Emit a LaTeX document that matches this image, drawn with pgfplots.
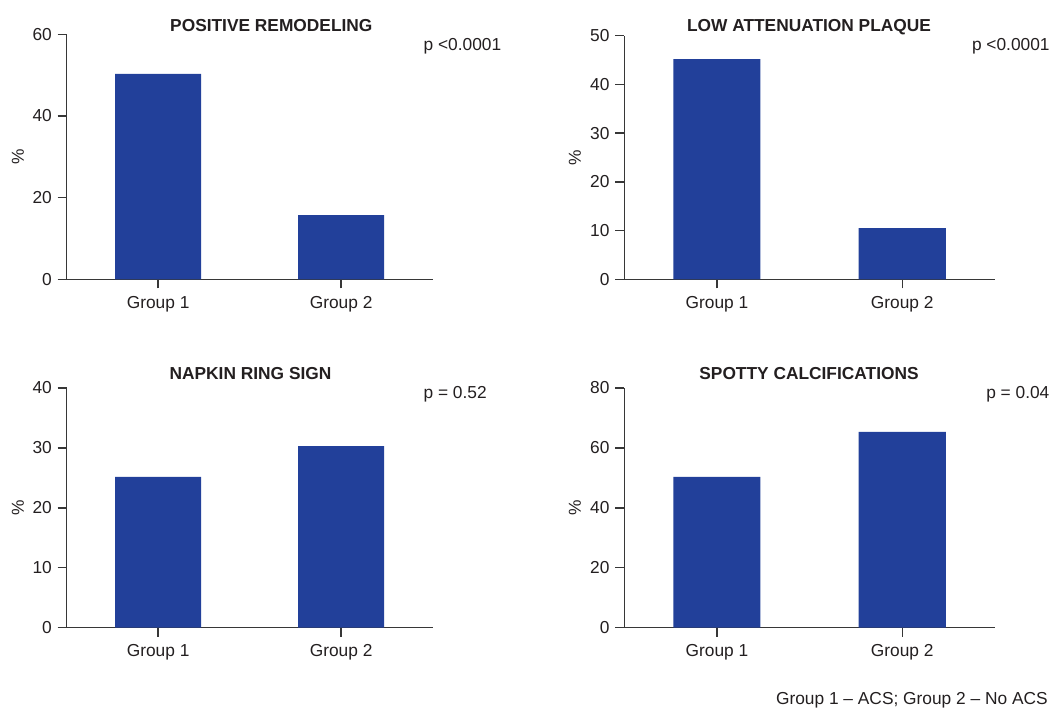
\documentclass[border=0pt]{standalone}
\usepackage{fontspec}
\setmainfont{Liberation Sans}
\usepackage{pgfplots}
\pgfplotsset{compat=1.18}
\definecolor{barblue}{RGB}{34,64,154}
\definecolor{txt}{RGB}{35,31,32}
\definecolor{axc}{RGB}{55,55,55}
\newcommand{\fs}{\fontsize{13}{15.6}\selectfont}
\pgfplotsset{panel/.style={
  scale only axis, anchor=south west,
  axis x line*=bottom, axis y line*=left,
  axis line style={-, draw=axc, line width=1.1pt},
  major tick style={draw=axc, line width=1.1pt},
  tick align=outside, major tick length=6.75pt,
  xmin=0.5, xmax=2.5, xtick={1,2}, xticklabels={Group 1, Group 2},
  ymin=0,
  ybar, bar width=0.47,
  tick label style={font=\fs, text=txt},
  xticklabel style={yshift=-2.25pt},
  yticklabel style={xshift=-0.8pt},
  /pgf/number format/assume math mode=true,
  ylabel={\%},
  ylabel style={font=\fs, text=txt, at={(axis description cs:-0.133,0.5)}, anchor=center},
}}
\pgfplotstableread{
x y
1 50.3
2 15.7
}\tabA
\pgfplotstableread{
x y
1 45.2
2 10.5
}\tabB
\pgfplotstableread{
x y
1 25.15
2 30.3
}\tabC
\pgfplotstableread{
x y
1 50.3
2 65.3
}\tabD
\begin{document}
\begin{tikzpicture}
\path[use as bounding box] (0,0) rectangle (788.25pt,531.75pt);
\begin{axis}[panel, at={(50pt,322.3pt)}, width=274.5pt, height=183.75pt, ymax=60, ytick={0,20,40,60}]
\addplot[draw=none, fill=barblue] table[x=x,y=y] {\tabA};
\end{axis}
\begin{axis}[panel, at={(468.2pt,322.3pt)}, width=278pt, height=182.7pt, ymax=50, ytick={0,10,20,30,40,50}]
\addplot[draw=none, fill=barblue] table[x=x,y=y] {\tabB};
\end{axis}
\begin{axis}[panel, at={(50pt,61pt)}, width=274.5pt, height=179.8pt, ymax=40, ytick={0,10,20,30,40}]
\addplot[draw=none, fill=barblue] table[x=x,y=y] {\tabC};
\end{axis}
\begin{axis}[panel, at={(468.2pt,61pt)}, width=278pt, height=179.8pt, ymax=80, ytick={0,20,40,60,80}]
\addplot[draw=none, fill=barblue] table[x=x,y=y] {\tabD};
\end{axis}
\begin{scope}[every node/.style={inner sep=0pt, text=txt, font=\fs}]
\node[anchor=base, font=\fs\bfseries] at (203.5pt,508pt) {POSITIVE REMODELING};
\node[anchor=base, font=\fs\bfseries] at (606.75pt,508pt) {LOW ATTENUATION PLAQUE};
\node[anchor=base, font=\fs\bfseries] at (187.9pt,246.75pt) {NAPKIN RING SIGN};
\node[anchor=base, font=\fs\bfseries] at (606.75pt,246.75pt) {SPOTTY CALCIFICATIONS};
\node[anchor=base west] at (317.5pt,493.7pt) {p <0.0001};
\node[anchor=base west] at (728.8pt,493.7pt) {p <0.0001};
\node[anchor=base west] at (317.5pt,232.5pt) {p = 0.52};
\node[anchor=base west] at (739.5pt,232.5pt) {p = 0.04};
\node[anchor=base east] at (786pt,3.2pt) {Group 1 – ACS; Group 2 – No ACS};
\end{scope}
\end{tikzpicture}
\end{document}
